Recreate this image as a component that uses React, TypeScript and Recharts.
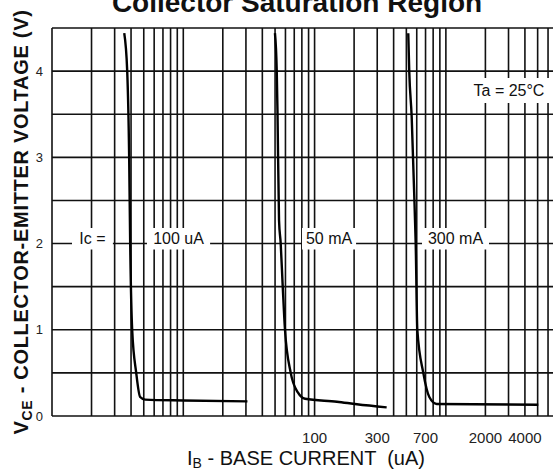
import React from 'react'
import { LineChart, Line, XAxis, YAxis, CartesianGrid, ReferenceArea, Label } from 'recharts'

// base current (uA) and VCE (V)
const ib100uA = [3.55, 3.74, 3.87, 3.94, 4.08, 4.38, 4.69, 5.12, 10, 30.8]
const vce100uA = [4.44, 4.0, 3.0, 2.0, 1.0, 0.5, 0.22, 0.19, 0.18, 0.17]

const ib50mA = [49.9, 51.5, 52.2, 53.6, 55.2, 57.2, 59.5, 65.8, 74.8, 84.6, 148, 210, 354]
const vce50mA = [4.44, 4.0, 3.51, 2.27, 2.0, 1.5, 1.0, 0.5, 0.27, 0.2, 0.166, 0.136, 0.1]

const ib300mA = [517, 526, 549, 582, 589, 606, 673, 748, 851, 5057]
const vce300mA = [4.44, 4.0, 3.47, 2.27, 2.0, 1.0, 0.5, 0.22, 0.14, 0.13]

const ibTicks = [
  1, 2, 3, 4, 5, 6, 7, 8, 9,
  10, 20, 30, 40, 50, 60, 70, 80, 90,
  100, 200, 300, 400, 500, 600, 700, 800, 900,
  1000, 2000, 3000, 4000, 5000, 6000, 7000,
]
const ibLabels = [100, 300, 700, 2000, 4000]
const vceTicks = [0, 0.5, 1, 1.5, 2, 2.5, 3, 3.5, 4, 4.5]

// curve labels, boxes in data units
const notes = [
  { text: 'Ic =', x1: 1.42, x2: 2.91, y1: 1.93, y2: 2.18 },
  { text: '100 uA', x1: 5.29, x2: 16, y1: 1.93, y2: 2.18 },
  { text: '50 mA', x1: 80.2, x2: 207, y1: 1.93, y2: 2.18 },
  { text: '300 mA', x1: 658, x2: 2130, y1: 1.93, y2: 2.18 },
  { text: 'Ta = 25°C', x1: 1473, x2: 6209, y1: 3.63, y2: 3.92 },
]

const toPoints = (ib: number[], vce: number[]) => ib.map((x, i) => ({ ib: x, vce: vce[i] }))

const curves = [
  { name: '100 uA', data: toPoints(ib100uA, vce100uA) },
  { name: '50 mA', data: toPoints(ib50mA, vce50mA) },
  { name: '300 mA', data: toPoints(ib300mA, vce300mA) },
]

const FONT = '"Liberation Sans", Arial, sans-serif'

const YTitle = (props: any) => {
  const vb = props.viewBox
  const cx = vb.x + 28
  const cy = vb.y + vb.height / 2
  return (
    <text
      x={cx}
      y={cy}
      transform={`rotate(-90, ${cx}, ${cy})`}
      textAnchor="middle"
      fontFamily={FONT}
      fontSize={20}
      fontWeight="bold"
      letterSpacing={0.7}
      fill="#111"
    >
      <tspan>V</tspan>
      <tspan fontSize={14} dy={4}>CE</tspan>
      <tspan dy={-4}> - COLLECTOR-EMITTER VOLTAGE (V)</tspan>
    </text>
  )
}

const XTitle = (props: any) => {
  const vb = props.viewBox
  const cx = vb.x + vb.width / 2
  return (
    <text x={cx} y={vb.y + 49} textAnchor="middle" fontFamily={FONT} fontSize={20} fill="#111">
      <tspan>I</tspan>
      <tspan fontSize={14} dy={3}>B</tspan>
      <tspan dy={-3}>{' - BASE CURRENT \u00a0(uA)'}</tspan>
    </text>
  )
}

export default function App() {
  return (
    <div style={{ position: 'absolute', left: 0, top: 0, width: 553, height: 471, overflow: 'hidden', background: '#fff' }}>
      <div
        style={{
          position: 'absolute',
          left: 297,
          top: -11,
          transform: 'translateX(-50%)',
          whiteSpace: 'nowrap',
          fontFamily: FONT,
          fontWeight: 'bold',
          fontSize: 28,
          lineHeight: '28px',
          color: '#111',
        }}
      >
        Collector Saturation Region
      </div>
      <LineChart width={562} height={471} margin={{ top: 28, right: 2, bottom: 25, left: 0 }}>
        <CartesianGrid stroke="#111" strokeWidth={1.6} />
        <XAxis
          type="number"
          dataKey="ib"
          scale="log"
          domain={[1, 7400]}
          allowDataOverflow
          ticks={ibTicks}
          interval={0}
          height={30}
          axisLine={false}
          tickLine={false}
          tickMargin={10}
          tick={{ fontSize: 15, fill: '#222', fontFamily: FONT }}
          tickFormatter={(v: number) => (ibLabels.includes(v) ? String(v) : '')}
        >
          <Label content={XTitle} />
        </XAxis>
        <YAxis
          type="number"
          domain={[0, 4.5]}
          ticks={vceTicks}
          interval={0}
          width={52}
          axisLine={false}
          tickLine={false}
          tickMargin={3}
          tick={{ fontSize: 13, fill: '#222', fontFamily: FONT }}
          tickFormatter={(v: number) => (Number.isInteger(v) ? String(v) : '')}
        >
          <Label content={YTitle} />
        </YAxis>
        {notes.map((n) => (
          <ReferenceArea
            key={n.text}
            x1={n.x1}
            x2={n.x2}
            y1={n.y1}
            y2={n.y2}
            fill="#fff"
            fillOpacity={1}
            stroke="none"
            label={{ value: n.text, position: 'center', fontSize: 16, fill: '#111', fontFamily: FONT }}
          />
        ))}
        {curves.map((c) => (
          <Line
            key={c.name}
            data={c.data}
            dataKey="vce"
            type="monotone"
            stroke="#000"
            strokeWidth={2.4}
            dot={false}
            isAnimationActive={false}
          />
        ))}
      </LineChart>
    </div>
  )
}
